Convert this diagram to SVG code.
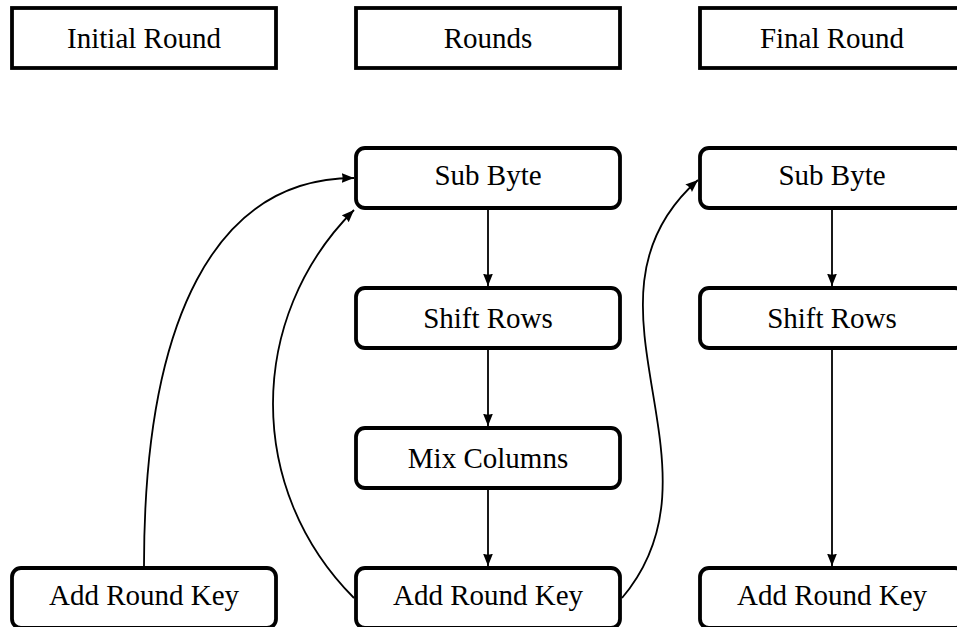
<svg xmlns="http://www.w3.org/2000/svg" width="957" height="627" viewBox="0 0 957 627">
  <style>
    .hdr { fill: #fff; stroke: #000; stroke-width: 3.8; }
    .box { fill: #fff; stroke: #000; stroke-width: 3.8; }
    .lbl { font-family: "Liberation Serif", "Times New Roman", serif; font-size: 29px; fill: #000; text-anchor: middle; }
    .edge { fill: none; stroke: #000; stroke-width: 1.8; marker-end: url(#head); }
  </style>
  <defs>
    <marker id="head" markerUnits="userSpaceOnUse" markerWidth="14" markerHeight="12" refX="12.5" refY="5" orient="auto">
      <path d="M0,0 L12.5,5 L0,10 Q2.2,5 0,0 z" fill="#000"/>
    </marker>
  </defs>

  <rect width="957" height="627" fill="#fff"/>

  <!-- column headers -->
  <g id="hdr-initial">
    <rect class="hdr" x="12" y="8" width="264" height="60"/>
    <text class="lbl" x="144" y="48">Initial Round</text>
  </g>
  <g id="hdr-rounds">
    <rect class="hdr" x="356" y="8" width="264" height="60"/>
    <text class="lbl" x="488" y="48">Rounds</text>
  </g>
  <g id="hdr-final">
    <rect class="hdr" x="700" y="8" width="264" height="60"/>
    <text class="lbl" x="832" y="48">Final Round</text>
  </g>

  <!-- initial round -->
  <g id="init-ark">
    <rect class="box" x="12" y="568" width="264" height="60" rx="9"/>
    <text class="lbl" x="144" y="605">Add Round Key</text>
  </g>

  <!-- main rounds -->
  <g id="r-sub">
    <rect class="box" x="356" y="148" width="264" height="60" rx="9"/>
    <text class="lbl" x="488" y="185">Sub Byte</text>
  </g>
  <g id="r-shift">
    <rect class="box" x="356" y="288" width="264" height="60" rx="9"/>
    <text class="lbl" x="488" y="328">Shift Rows</text>
  </g>
  <g id="r-mix">
    <rect class="box" x="356" y="428" width="264" height="60" rx="9"/>
    <text class="lbl" x="488" y="468">Mix Columns</text>
  </g>
  <g id="r-ark">
    <rect class="box" x="356" y="568" width="264" height="60" rx="9"/>
    <text class="lbl" x="488" y="605">Add Round Key</text>
  </g>

  <!-- final round -->
  <g id="f-sub">
    <rect class="box" x="700" y="148" width="264" height="60" rx="9"/>
    <text class="lbl" x="832" y="185">Sub Byte</text>
  </g>
  <g id="f-shift">
    <rect class="box" x="700" y="288" width="264" height="60" rx="9"/>
    <text class="lbl" x="832" y="328">Shift Rows</text>
  </g>
  <g id="f-ark">
    <rect class="box" x="700" y="568" width="264" height="60" rx="9"/>
    <text class="lbl" x="832" y="605">Add Round Key</text>
  </g>

  <!-- connectors -->
  <g id="edges">
    <path class="edge" d="M488,210 L488,286"/>
    <path class="edge" d="M488,350 L488,426"/>
    <path class="edge" d="M488,490 L488,566"/>
    <path class="edge" d="M832,210 L832,286"/>
    <path class="edge" d="M832,350 L832,566"/>
    <!-- initial key -> first round -->
    <path class="edge" d="M144,566 C144,320 215,178 354,178"/>
    <!-- loop back to next round -->
    <path class="edge" d="M354,598 C246,490 246,318 354,210"/>
    <!-- into final round -->
    <path class="edge" d="M622,598 C735,465 562,300 698,180"/>
  </g>
</svg>
